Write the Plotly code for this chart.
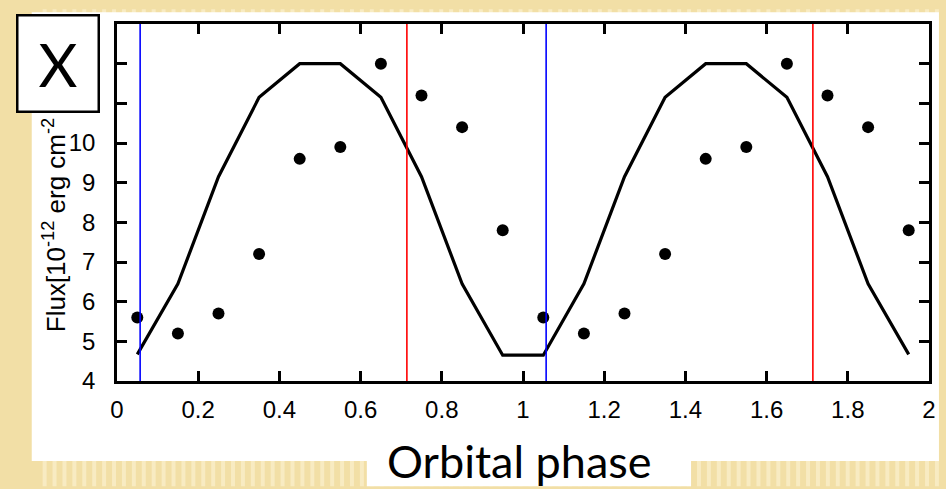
import plotly.graph_objects as go

# ---- data ----
obs_phase = [0.05, 0.15, 0.25, 0.35, 0.45, 0.55, 0.65, 0.75, 0.85, 0.95,
             1.05, 1.15, 1.25, 1.35, 1.45, 1.55, 1.65, 1.75, 1.85, 1.95]
obs_flux = [5.6, 5.2, 5.7, 7.2, 9.6, 9.9, 12.0, 11.2, 10.4, 7.8,
            5.6, 5.2, 5.7, 7.2, 9.6, 9.9, 12.0, 11.2, 10.4, 7.8]
model_phase = [0.05, 0.15, 0.25, 0.35, 0.45, 0.55, 0.65, 0.75, 0.85, 0.95,
               1.05, 1.15, 1.25, 1.35, 1.45, 1.55, 1.65, 1.75, 1.85, 1.95]
model_flux = [4.67, 6.45, 9.15, 11.15, 12.0, 12.0, 11.15, 9.15, 6.45, 4.65,
              4.65, 6.45, 9.15, 11.15, 12.0, 12.0, 11.15, 9.15, 6.45, 4.67]
blue_lines = [0.057, 1.057]
red_lines = [0.714, 1.714]
x_tickvals = [0, 0.2, 0.4, 0.6, 0.8, 1, 1.2, 1.4, 1.6, 1.8, 2]
x_ticktext = ["0", "0.2", "0.4", "0.6", "0.8", "1", "1.2", "1.4", "1.6", "1.8", "2"]
y_tickvals = [4, 5, 6, 7, 8, 9, 10, 11, 12, 13]

# ---- geometry ----
W, H = 946, 489
ML, MR, MT, MB = 117, 10, 15, 108
PW, PH = W - ML - MR, H - MT - MB


def fx(px):
    return (px - ML) / PW


def fy(py):
    return (H - MB - py) / PH


fig = go.Figure()
fig.add_trace(go.Scatter(x=model_phase, y=model_flux, mode="lines",
                         line=dict(color="black", width=3.2),
                         showlegend=False, hoverinfo="skip"))
fig.add_trace(go.Scatter(x=obs_phase, y=obs_flux, mode="markers",
                         marker=dict(color="black", size=12),
                         showlegend=False))
for xv in blue_lines:
    fig.add_vline(x=xv, line=dict(color="#0000ff", width=1.6))
for xv in red_lines:
    fig.add_vline(x=xv, line=dict(color="#ff0000", width=1.6))

shapes = []
# slide background: beige with stripes, white content area
for i in range(0, W, 10):
    shapes.append(dict(type="rect", xref="paper", yref="paper",
                       x0=fx(i + 2), x1=fx(i + 6), y0=fy(H), y1=fy(0),
                       fillcolor="#f8ebc2", line=dict(width=0), layer="below"))
shapes.append(dict(type="rect", xref="paper", yref="paper",
                   x0=fx(31), x1=fx(W), y0=fy(463), y1=fy(3),
                   fillcolor="white", line=dict(width=0), layer="below"))
shapes.append(dict(type="rect", xref="paper", yref="paper",
                   x0=fx(369), x1=fx(696), y0=fy(H), y1=fy(462),
                   fillcolor="white", line=dict(width=0), layer="below"))

annotations = [
    dict(text="Flux[10<sup>-12</sup> erg cm<sup>-2</sup>&nbsp;&nbsp; s<sup>-1</sup>]",
         xref="paper", yref="paper", x=fx(54), y=fy(333),
         xanchor="center", yanchor="bottom", textangle=-90, showarrow=False,
         font=dict(family="Liberation Sans, Arial", size=26, color="black")),
    dict(text="Orbital phase", xref="paper", yref="paper",
         x=fx(523), y=fy(489), xanchor="center", yanchor="bottom",
         yshift=-4, showarrow=False,
         font=dict(family="Lato", size=45, color="black")),
    dict(text="X", xref="paper", yref="paper", x=fx(15), y=fy(5),
         xanchor="left", yanchor="top", showarrow=False,
         width=79, height=94, borderwidth=2.5, borderpad=0,
         bgcolor="white", bordercolor="black",
         font=dict(family="Lato", size=60, color="black")),
]

axis_common = dict(showgrid=False, zeroline=False, showline=True,
                   linecolor="black", linewidth=2.5, mirror="ticks",
                   ticks="inside", ticklen=10, tickwidth=2.5, tickcolor="black",
                   tickfont=dict(family="Liberation Sans, Arial", size=24,
                                 color="black"))

fig.update_layout(
    width=W, height=H,
    margin=dict(l=ML, r=MR, t=MT, b=MB),
    paper_bgcolor="#f2dfa6",
    plot_bgcolor="white",
    shapes=shapes,
    annotations=annotations,
    xaxis=dict(range=[0, 2], tickvals=x_tickvals, ticktext=x_ticktext,
               ticklabelstandoff=5, **axis_common),
    yaxis=dict(range=[4, 13], tickvals=y_tickvals, ticklabelstandoff=14,
               **axis_common),
)

fig.write_html("out.html", config={"displayModeBar": False},
               post_script="document.body.style.margin='0';"
                           "document.body.style.overflow='hidden';")
